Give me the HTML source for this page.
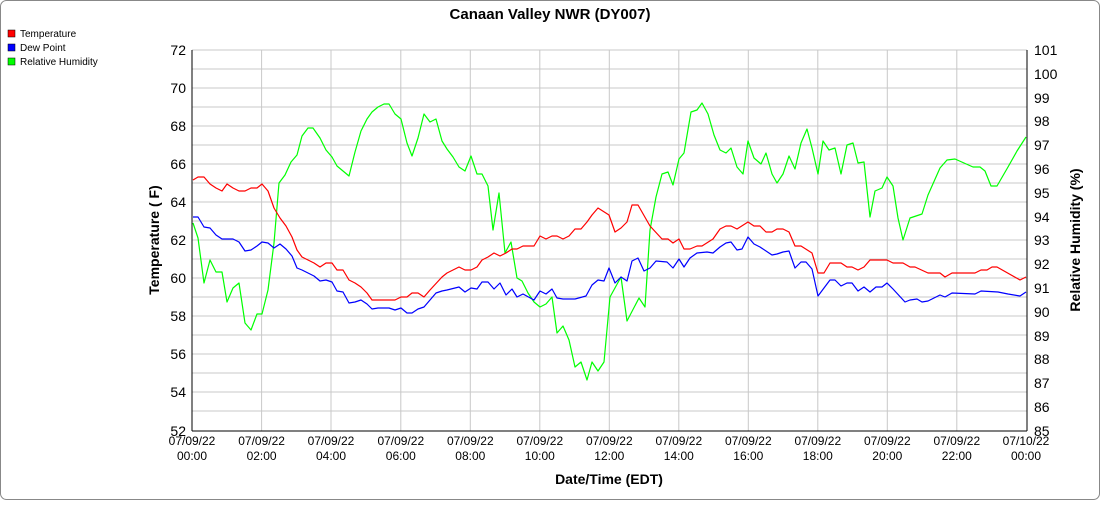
<!DOCTYPE html><html><head><style>body{margin:0;background:#fff}</style></head><body>
<svg width="1100" height="500" xmlns="http://www.w3.org/2000/svg" font-family="Liberation Sans, sans-serif">
<rect x="0.5" y="0.5" width="1099" height="499" rx="6" fill="#fff" stroke="#888"/>
<text x="550" y="19" text-anchor="middle" font-size="15" font-weight="bold">Canaan Valley NWR (DY007)</text>
<g font-size="10">
<rect x="8" y="30" width="7" height="7" fill="#f00" stroke="#000" stroke-width="0.5"/><text x="20" y="37">Temperature</text>
<rect x="8" y="44" width="7" height="7" fill="#00f" stroke="#000" stroke-width="0.5"/><text x="20" y="51">Dew Point</text>
<rect x="8" y="58" width="7" height="7" fill="#0f0" stroke="#000" stroke-width="0.5"/><text x="20" y="65">Relative Humidity</text>
</g>
<g stroke="#c8c8c8" stroke-width="1">
<line x1="192" x2="1027" y1="50" y2="50"/><line x1="192" x2="1027" y1="69" y2="69"/><line x1="192" x2="1027" y1="88" y2="88"/><line x1="192" x2="1027" y1="107" y2="107"/><line x1="192" x2="1027" y1="126" y2="126"/><line x1="192" x2="1027" y1="145" y2="145"/><line x1="192" x2="1027" y1="164" y2="164"/><line x1="192" x2="1027" y1="183" y2="183"/><line x1="192" x2="1027" y1="202" y2="202"/><line x1="192" x2="1027" y1="221" y2="221"/><line x1="192" x2="1027" y1="240" y2="240"/><line x1="192" x2="1027" y1="259" y2="259"/><line x1="192" x2="1027" y1="278" y2="278"/><line x1="192" x2="1027" y1="297" y2="297"/><line x1="192" x2="1027" y1="316" y2="316"/><line x1="192" x2="1027" y1="335" y2="335"/><line x1="192" x2="1027" y1="354" y2="354"/><line x1="192" x2="1027" y1="373" y2="373"/><line x1="192" x2="1027" y1="392" y2="392"/><line x1="192" x2="1027" y1="411" y2="411"/>
<line y1="50" y2="431" x1="261.6" x2="261.6"/><line y1="50" y2="431" x1="331" x2="331"/><line y1="50" y2="431" x1="400.8" x2="400.8"/><line y1="50" y2="431" x1="470.3" x2="470.3"/><line y1="50" y2="431" x1="539.8" x2="539.8"/><line y1="50" y2="431" x1="609.3" x2="609.3"/><line y1="50" y2="431" x1="678.8" x2="678.8"/><line y1="50" y2="431" x1="748.3" x2="748.3"/><line y1="50" y2="431" x1="817.8" x2="817.8"/><line y1="50" y2="431" x1="887.3" x2="887.3"/><line y1="50" y2="431" x1="956.8" x2="956.8"/>
</g>
<g stroke="#000" stroke-width="1"><line x1="192" y1="50" x2="192" y2="431"/><line x1="1027" y1="50" x2="1027" y2="431"/><line x1="192" y1="431" x2="1027" y2="431"/></g>
<g font-size="14" text-anchor="end">
<text x="186" y="55">72</text><text x="186" y="93">70</text><text x="186" y="131">68</text><text x="186" y="169">66</text><text x="186" y="207">64</text><text x="186" y="245">62</text><text x="186" y="283">60</text><text x="186" y="321">58</text><text x="186" y="359">56</text><text x="186" y="397">54</text><text x="186" y="436">52</text>
</g>
<g font-size="14">
<text x="1034" y="55">101</text><text x="1034" y="79">100</text><text x="1034" y="103">99</text><text x="1034" y="126">98</text><text x="1034" y="150">97</text><text x="1034" y="174">96</text><text x="1034" y="198">95</text><text x="1034" y="222">94</text><text x="1034" y="245">93</text><text x="1034" y="269">92</text><text x="1034" y="293">91</text><text x="1034" y="317">90</text><text x="1034" y="341">89</text><text x="1034" y="364">88</text><text x="1034" y="388">87</text><text x="1034" y="412">86</text><text x="1034" y="436">85</text>
</g>
<g font-size="12" text-anchor="middle">
<text x="192" y="445">07/09/22</text><text x="192" y="460">00:00</text>
<text x="261.6" y="445">07/09/22</text><text x="261.6" y="460">02:00</text>
<text x="331" y="445">07/09/22</text><text x="331" y="460">04:00</text>
<text x="400.8" y="445">07/09/22</text><text x="400.8" y="460">06:00</text>
<text x="470.3" y="445">07/09/22</text><text x="470.3" y="460">08:00</text>
<text x="539.8" y="445">07/09/22</text><text x="539.8" y="460">10:00</text>
<text x="609.3" y="445">07/09/22</text><text x="609.3" y="460">12:00</text>
<text x="678.8" y="445">07/09/22</text><text x="678.8" y="460">14:00</text>
<text x="748.3" y="445">07/09/22</text><text x="748.3" y="460">16:00</text>
<text x="817.8" y="445">07/09/22</text><text x="817.8" y="460">18:00</text>
<text x="887.3" y="445">07/09/22</text><text x="887.3" y="460">20:00</text>
<text x="956.8" y="445">07/09/22</text><text x="956.8" y="460">22:00</text>
<text x="1026" y="445">07/10/22</text><text x="1026" y="460">00:00</text>
</g>
<text x="609" y="484" text-anchor="middle" font-size="14" font-weight="bold">Date/Time (EDT)</text>
<text transform="translate(159,240) rotate(-90)" text-anchor="middle" font-size="14" font-weight="bold">Temperature ( F)</text>
<text transform="translate(1080,240) rotate(-90)" text-anchor="middle" font-size="14" font-weight="bold">Relative Humidity (%)</text>
<g fill="none" stroke-width="1.2" stroke-linejoin="round">
<polyline stroke="#0f0" points="193,223 198,238 204,283 210,260 216,272 222,272 227,302 233,288 239,283 245,323 251,330 257,314 262,314 268,290 274,243 279,183 285,175 291,162 297,155 302,136 308,128 313,128 320,138 326,150 332,157 337,166 349,176 355,152 361,131 367,119 372,112 378,107 384,104 389,104 395,114 401,119 407,143 412,156 418,138 424,114 430,122 436,119 442,141 447,149 453,157 459,167 465,171 471,156 477,174 482,174 488,186 493,230 499,193 505,253 511,242 517,278 522,281 528,293 534,302 540,307 546,304 552,297 557,333 563,326 569,340 575,367 581,362 587,380 592,362 598,371 604,362 610,297 621,277 627,321 639,298 645,307 650,230 656,197 662,174 668,172 673,185 679,159 684,153 691,112 697,110 702,103 708,114 714,135 720,150 726,153 731,148 737,167 743,174 748,141 754,158 761,164 766,153 772,174 777,183 783,174 789,156 795,169 801,143 807,129 812,148 818,174 823,141 829,150 835,148 841,174 847,145 853,143 858,163 864,162 870,217 875,191 882,188 887,177 893,186 898,218 903,240 910,218 922,214 928,195 940,168 947,160 955,159 973,167 980,167 985,171 991,186 997,186 1008,167 1017,151 1026,137"/>
<polyline stroke="#00f" points="193,217 198,217 204,227 210,228 216,235 222,239 233,239 239,242 245,251 251,250 257,246 262,242 268,243 274,248 280,244 286,249 292,256 297,268 302,270 308,273 314,276 320,281 326,280 332,282 337,291 343,292 349,303 355,302 361,300 367,304 372,309 378,308 389,308 395,310 401,308 407,313 412,313 418,309 424,307 430,300 436,293 442,291 447,290 459,287 465,292 471,288 477,289 482,282 488,282 494,289 500,283 506,295 512,289 517,297 523,294 534,300 540,291 546,294 552,289 557,298 563,299 575,299 586,296 592,285 598,280 604,281 609,268 615,283 621,277 627,281 632,261 638,258 644,271 650,268 656,261 667,262 673,268 679,259 684,267 690,258 697,253 707,252 713,253 720,247 726,243 731,242 737,250 742,249 748,237 754,244 760,247 772,255 777,254 783,252 789,251 795,268 801,262 806,262 812,269 818,296 830,280 835,280 841,286 847,283 852,283 858,291 864,287 870,292 876,287 882,287 887,283 893,289 905,302 910,300 917,299 922,302 928,301 940,295 945,297 952,293 975,294 981,291 998,292 1008,294 1020,296 1026,292"/>
<polyline stroke="#f00" points="193,180 198,177 204,177 210,184 216,188 222,191 227,184 233,188 239,191 245,191 251,188 257,188 262,184 268,191 274,208 280,218 286,226 292,237 297,250 302,257 308,260 314,263 320,267 326,263 332,263 337,270 343,270 349,280 355,283 361,287 367,293 372,300 395,300 401,297 407,297 412,293 418,293 424,297 430,290 442,277 447,273 453,270 459,267 465,270 471,270 477,267 482,260 488,257 494,253 500,256 506,253 512,249 517,249 523,246 534,246 540,236 546,239 552,236 557,236 563,239 569,236 575,229 581,229 587,222 592,215 598,208 609,215 615,232 621,228 627,222 632,205 638,205 650,226 662,239 668,239 673,243 679,239 684,249 690,249 697,246 702,246 713,239 720,229 726,226 731,226 737,229 748,222 754,226 760,226 766,232 772,232 777,229 783,229 789,232 795,246 801,246 812,253 818,273 824,273 830,263 841,263 847,267 852,267 858,270 864,267 870,260 887,260 893,263 903,263 910,267 915,267 928,273 940,273 945,277 952,273 975,273 981,270 987,270 992,267 997,267 1020,280 1026,277"/>
</g>
</svg>
</body></html>
